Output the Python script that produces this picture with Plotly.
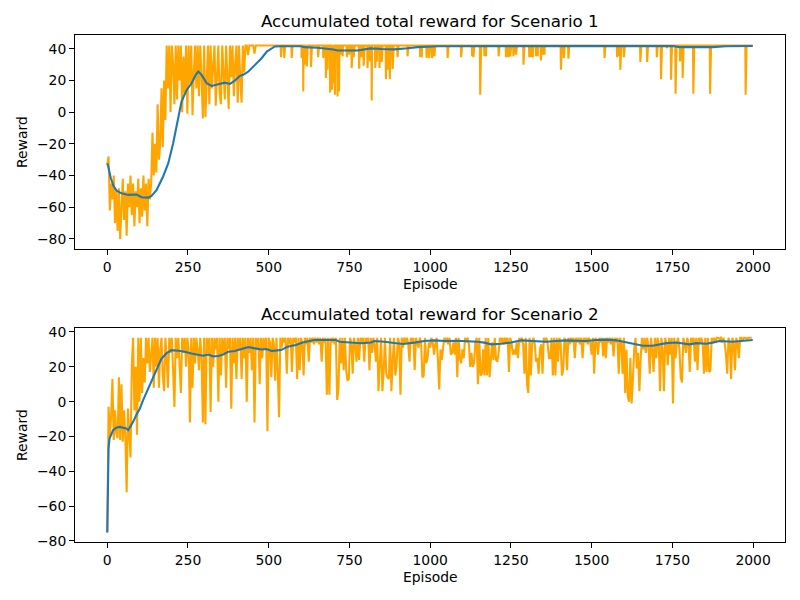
import plotly.graph_objects as go

# ---------------- Scenario 1 ----------------
# orange reward, episodes 0..496 read every 4 episodes
s1_early_reward = [
    -33, -28, -62, -45, -55, -40, -70, -50, -75, -48, -80, -55, -42, -68, -50, -78, -45, -60, -40, -65, -45, -72, -50, -60, -42,
    -70, -48, -66, -40, -62, -45, -72, -42, -55, -45, -13, -40, -20, -38, 5, -30, -20, 15, -22, 20, -5, 42, 15, 42, 0,
    42, 30, 5, 42, 8, 42, 20, 42, 0, 35, 12, 42, -1, 42, 18, 42, -2, 25, 42, 15, 42, 10, 42, 22, -4,
    42, -3, 20, 42, 5, 42, 15, 28, 42, 4, 20, 42, 12, 5, 42, 25, 8, 42, 18, 2, 42, 22, 42, 10, 30,
    42, 6, 42, 20, 6, 42, 25, 42, 42, 36, 42, 42, 42, 42, 37, 42, 42, 42, 42, 42, 42, 42, 42, 42, 42,
]
s1_early_step = 4
# from episode 500 on the reward sits at its maximum except for these dips
s1_cap = 42.0
s1_dip_episodes = [538, 548, 571, 602, 607, 610, 614, 618, 631, 653, 669, 677, 682, 690, 696, 700, 705, 713, 718,
                   724, 729, 742, 749, 757, 763, 780, 788, 794, 806, 814, 819, 830, 835, 843, 850, 863, 868, 875,
                   884, 899, 930, 969, 974, 989, 997, 1006, 1013, 1054, 1096, 1130, 1134, 1155, 1168, 1173, 1212,
                   1235, 1242, 1248, 1258, 1266, 1289, 1307, 1309, 1313, 1318, 1328, 1333, 1343, 1349, 1354, 1405,
                   1414, 1428, 1540, 1579, 1586, 1589, 1600, 1651, 1672, 1702, 1715, 1733, 1746, 1760, 1774, 1782,
                   1815, 1867, 1977]
s1_dip_reward = [34.7, 34.1, 34.1, 34.1, 13.0, 34.0, 29.9, 28.8, 28.4, 34.7, 34.1, 21.5, 26.7, 12.4, 14.1, 18.3, 10.9, 9.9, 13.0,
                 36.2, 35.2, 34.7, 36.2, 27.8, 34.7, 27.4, 34.7, 29.3, 27.8, 32.0, 7.4, 27.8, 32.0, 27.8, 31.6, 20.8, 26.7, 20.8,
                 27.2, 34.7, 35.2, 34.7, 34.7, 34.1, 34.1, 34.1, 35.2, 34.1, 34.7, 35.2, 34.7, 10.9, 35.2, 35.2, 35.2,
                 34.7, 34.7, 35.2, 35.2, 36.2, 29.9, 34.7, 34.7, 34.7, 34.7, 35.2, 35.2, 32.6, 36.2, 36.2, 26.7,
                 34.1, 33.7, 34.1, 34.7, 35.2, 26.7, 34.7, 31.6, 31.6, 34.7, 20.8, 40.4, 20.4, 11.6, 32.0, 21.5,
                 11.6, 11.6, 10.9]
s1_last_episode = 1999
# blue running average
s1_avg_episodes = [0, 3, 11, 19, 29, 44, 65, 91, 106, 127, 137, 153, 173, 189, 204, 220, 230, 246, 261, 274, 282, 292,
                   308, 323, 344, 364, 380, 395, 411, 421, 437, 457, 478, 494, 509, 519, 540, 600, 610, 650, 700,
                   713, 775, 816, 850, 889, 930, 961, 1023, 1300, 1500, 1751, 1772, 1875, 1916, 1999]
s1_avg_reward = [-32.2, -34.3, -41.7, -46.5, -49.5, -51.2, -52.2, -52.0, -53.7, -53.9, -52.8, -49.0, -40.6, -32.2, -19.6,
                 -2.8, 6.7, 14.0, 18.2, 23.5, 25.6, 23.5, 18.2, 16.5, 17.6, 18.6, 17.8, 19.9, 22.9, 23.5, 25.6, 29.8,
                 34.0, 38.2, 40.3, 41.4, 41.6, 41.6, 41.0, 40.6, 39.5, 38.9, 38.9, 40.2, 39.8, 39.6, 40.3, 41.0, 41.6,
                 41.6, 41.7, 41.7, 41.0, 41.0, 41.6, 41.7]

# ---------------- Scenario 2 ----------------
# orange reward read every 4 episodes
s2_step = 4
s2_reward = [
    -75, -3, -20, -8, 13, -22, -5, -18, -21, 14, -22, 10, -23, -5, -20, -52, -4, -22, -32, 21, 36.7, -5, 20, -19, 36.7,
    0, 36.7, 5, 25, 11, 36.7, 22, 36.7, 17, 30, 36.7, 8, 36.7, 20, 36.7, 8, 30, 36.7, 15, 6, 36.7, 25, 8, 36.7, 28,
    36.7, 20, -3, 36.7, 25, 36.7, 15, 5, 36.7, 28, 36.7, 20, 36.7, 30, -12, 36.7, 8, 36.7, 22, 36.7, 30, 18, 36.7, 25, -12,
    36.7, -13, 36.7, 28, 36.7, -6, 36.7, 20, 36.7, 30, 36.7, 0, 36.7, 15, 36.7, 28, 36.7, 8, 36.7, 30, 36.7, -4, 36.7, 22, 36.7,
    13, 36.7, 30, 36.7, 13, 36.7, 25, 36.7, 0, 36.7, 28, 36.7, 18, 36.7, -12, 36.7, 30, 36.7, 10, 36.7, 25, 36.7, 30, 36.7, -17,
    36.7, 34, 14, 36.7, 33, 12, 36.7, 17, -9, 36.7, 31, 36.7, 34, 36.7, 16, 36.7, 33, 36.7, 17, 36.7, 34, 36.7, 13, 36.7, 18,
    36.7, 34, 15, 36.7, 33, 36.7, 23, 36.7, 34, 36.7, 33, 36.7, 34, 36.7, 33, 36.7, 23, 36.7, 34, 36.7, 4, 36.7, 4, 36.7, 34,
    36.7, 33, 36.7, 1, 7, 36.7, 22, 36.7, 18, 36.7, 18, 12, 13, 36.7, 34, 16, 36.7, 33, 23, 36.7, 24, 36.7, 34, 36.7, 23,
    36.7, 34, 36.7, 18, 36.7, 28, 36.7, 33, 23, 36.7, 6, 22, 36.7, 6, 17, 36.7, 16, 14, 13, 36.7, 6, 23, 36.7, 15, 21,
    36.7, 34, 4, 36.7, 31, 36.7, 34, 36.7, 33, 23, 36.7, 34, 36.7, 18, 36.7, 34, 31, 36.7, 34, 14, 15, 36.7, 22, 25, 34,
    31, 36.7, 34, 27, 33, 36.7, 24, 7, 30, 24, 31, 36.7, 34, 36.7, 33, 36.7, 27, 28, 34, 27, 36.7, 14, 36.7, 25, 22,
    30, 25, 36.7, 34, 36.7, 33, 20, 28, 20, 22, 34, 36.7, 10, 36.7, 15, 16, 30, 15, 36.7, 15, 36.7, 14, 28, 34, 24,
    36.7, 24, 23, 28, 36.7, 34, 36.7, 33, 36.7, 34, 36.7, 17, 36.7, 34, 27, 30, 27, 34, 25, 36.7, 34, 36.7, 33, 16, 36.7,
    10, 5, 36.7, 15, 34, 36.7, 33, 23, 25, 16, 30, 33, 16, 36.7, 34, 36.7, 33, 25, 25, 36.7, 15, 36.7, 15, 36.7, 23,
    36.7, 34, 15, 18, 36.7, 34, 18, 36.7, 33, 36.7, 34, 36.7, 25, 36.7, 34, 36.7, 33, 36.7, 25, 36.7, 34, 36.7, 33, 36.7, 34,
    27, 36.7, 16, 36.7, 34, 27, 36.7, 34, 36.7, 26, 36.7, 25, 36.7, 34, 36.7, 33, 36.7, 26, 36.7, 34, 36.7, 16, 36.7, 34, 16,
    36.7, 5, 30, 3, 0, 25, -1, 13, 30, 36.7, 19, 28, 6, 25, 36.7, 30, 36.7, 28, 36.7, 32, 16, 36.7, 30, 17, 36.7,
    25, 36.7, 33, 6, 36.7, 30, 6, 36.7, 33, 21, 36.7, 27, 36.7, -1, 36.7, 25, 34, 36.7, 30, 14, 11, 36.7, 33, 28, 36.7,
    34, 17, 36.7, 34, 36.7, 23, 36.7, 18, 36.7, 34, 36.7, 33, 16, 36.7, 17, 36.7, 17, 18, 36.7, 34, 36.7, 34, 36.7, 36.7, 36,
    36.7, 34, 36.7, 34, 27, 16, 36.7, 34, 13, 36.7, 34, 18, 36.7, 34, 25, 36.7, 36.7, 35, 36.7, 36.7, 36, 36.7, 36.7, 36.7, 36.7,
]
s2_avg_episodes = [0, 2, 4, 7, 12, 18, 28, 39, 49, 59, 65, 70, 80, 90, 101, 111, 127, 142, 158, 168, 183, 199, 220, 240,
                   261, 282, 297, 313, 328, 344, 359, 375, 395, 416, 437, 457, 478, 493, 509, 520, 538, 558, 584, 605,
                   641, 672, 708, 719, 755, 786, 817, 827, 858, 889, 915, 951, 982, 1013, 1044, 1085, 1116, 1147, 1168,
                   1189, 1220, 1251, 1282, 1297, 1328, 1359, 1390, 1421, 1452, 1483, 1514, 1545, 1576, 1597, 1617, 1638,
                   1659, 1689, 1710, 1731, 1762, 1782, 1803, 1824, 1855, 1875, 1896, 1937, 1958, 1979, 1999]
s2_avg_reward = [-75.2, -40.0, -27.0, -21.2, -19.3, -16.4, -15.0, -14.5, -15.0, -15.4, -16.4, -15.0, -11.6, -7.7, -3.9, 0.9,
                 7.6, 13.3, 20.0, 24.8, 27.7, 29.6, 29.2, 28.7, 27.7, 26.8, 26.4, 27.1, 26.0, 26.2, 27.1, 28.7, 29.1, 30.2,
                 31.4, 30.6, 30.0, 30.2, 29.1, 29.3, 29.6, 31.5, 32.5, 34.0, 35.4, 35.4, 35.4, 34.4, 33.9, 33.5, 34.0,
                 34.8, 34.4, 33.5, 33.1, 33.9, 34.8, 35.2, 34.8, 35.0, 34.8, 34.4, 33.9, 32.9, 33.3, 34.0, 35.2, 35.0,
                 34.8, 34.4, 34.8, 35.2, 35.0, 34.8, 35.4, 35.6, 35.2, 34.4, 33.5, 32.5, 32.1, 32.1, 32.9, 33.6, 34.0,
                 33.3, 32.9, 33.6, 33.3, 33.9, 34.8, 34.4, 34.8, 35.2, 35.4]

# ---------------- ticks / text ----------------
x_ticks = [0, 250, 500, 750, 1000, 1250, 1500, 1750, 2000]
y_ticks = [-80, -60, -40, -20, 0, 20, 40]
y_tick_text = ["\u221280", "\u221260", "\u221240", "\u221220", "0", "20", "40"]
titles = ["Accumulated total reward for Scenario 1", "Accumulated total reward for Scenario 2"]
x_label = "Episode"
y_label = "Reward"

ORANGE = "#FFA500"
BLUE = "#1f77b4"
FONT = "DejaVu Sans"

# build scenario 1 orange series
s1_x = [i * s1_early_step for i in range(len(s1_early_reward))]
s1_y = list(s1_early_reward)
dips = dict(zip(s1_dip_episodes, s1_dip_reward))
for e in range(s1_x[-1] + s1_early_step, s1_last_episode + 1):
    s1_x.append(e)
    s1_y.append(dips.get(e, s1_cap))

s2_x = [i * s2_step for i in range(len(s2_reward))]

fig = go.Figure()
line_w = 2.08
fig.add_trace(go.Scatter(x=s1_x, y=s1_y, mode="lines", line=dict(color=ORANGE, width=line_w),
                         xaxis="x", yaxis="y", showlegend=False, hoverinfo="skip"))
fig.add_trace(go.Scatter(x=s1_avg_episodes, y=s1_avg_reward, mode="lines", line=dict(color=BLUE, width=line_w),
                         xaxis="x", yaxis="y", showlegend=False, hoverinfo="skip"))
fig.add_trace(go.Scatter(x=s2_x, y=s2_reward, mode="lines", line=dict(color=ORANGE, width=line_w),
                         xaxis="x2", yaxis="y2", showlegend=False, hoverinfo="skip"))
fig.add_trace(go.Scatter(x=s2_avg_episodes, y=s2_avg_reward, mode="lines", line=dict(color=BLUE, width=line_w),
                         xaxis="x2", yaxis="y2", showlegend=False, hoverinfo="skip"))

axis_style = dict(showline=True, linecolor="black", linewidth=1.1, mirror=True, ticks="outside",
                  ticklen=4.9, tickwidth=1.1, tickcolor="black", showgrid=False, zeroline=False,
                  tickfont=dict(family=FONT, size=13.9, color="black"))

fig.update_layout(
    width=800, height=600,
    margin=dict(l=75, r=15, t=35, b=58, pad=0),
    paper_bgcolor="white", plot_bgcolor="white",
    xaxis=dict(domain=[0, 1], anchor="y", range=[-99.95, 2098.95], tickvals=x_ticks, **axis_style),
    yaxis=dict(domain=[0.578, 1], anchor="x", range=[-86.3, 48.65], tickvals=y_ticks, ticktext=y_tick_text, **axis_style),
    xaxis2=dict(domain=[0, 1], anchor="y2", range=[-99.95, 2098.95], tickvals=x_ticks, **axis_style),
    yaxis2=dict(domain=[0, 0.4221], anchor="x2", range=[-80.6, 42.3], tickvals=y_ticks, ticktext=y_tick_text, **axis_style),
)

# plot area is 75..785 px wide and 35..542 px tall
def py(p):
    return (542 - p) / 507.0

def px(p):
    return (p - 75) / 710.0

ann = []
for title, ty in zip(titles, [21, 314]):
    ann.append(dict(text=title, x=0.5, y=py(ty), xref="paper", yref="paper", showarrow=False,
                    xanchor="center", yanchor="middle", font=dict(family=FONT, size=16.7, color="black")))
for ly in [284, 577]:
    ann.append(dict(text=x_label, x=0.5, y=py(ly), xref="paper", yref="paper", showarrow=False,
                    xanchor="center", yanchor="middle", font=dict(family=FONT, size=13.9, color="black")))
for ly in [142, 435]:
    ann.append(dict(text=y_label, x=px(22), y=py(ly), xref="paper", yref="paper", showarrow=False,
                    textangle=-90, xanchor="center", yanchor="middle", font=dict(family=FONT, size=13.9, color="black")))
fig.update_layout(annotations=ann)

fig.write_html("out.html", config={"displayModeBar": False},
               post_script="document.body.style.margin='0';")
